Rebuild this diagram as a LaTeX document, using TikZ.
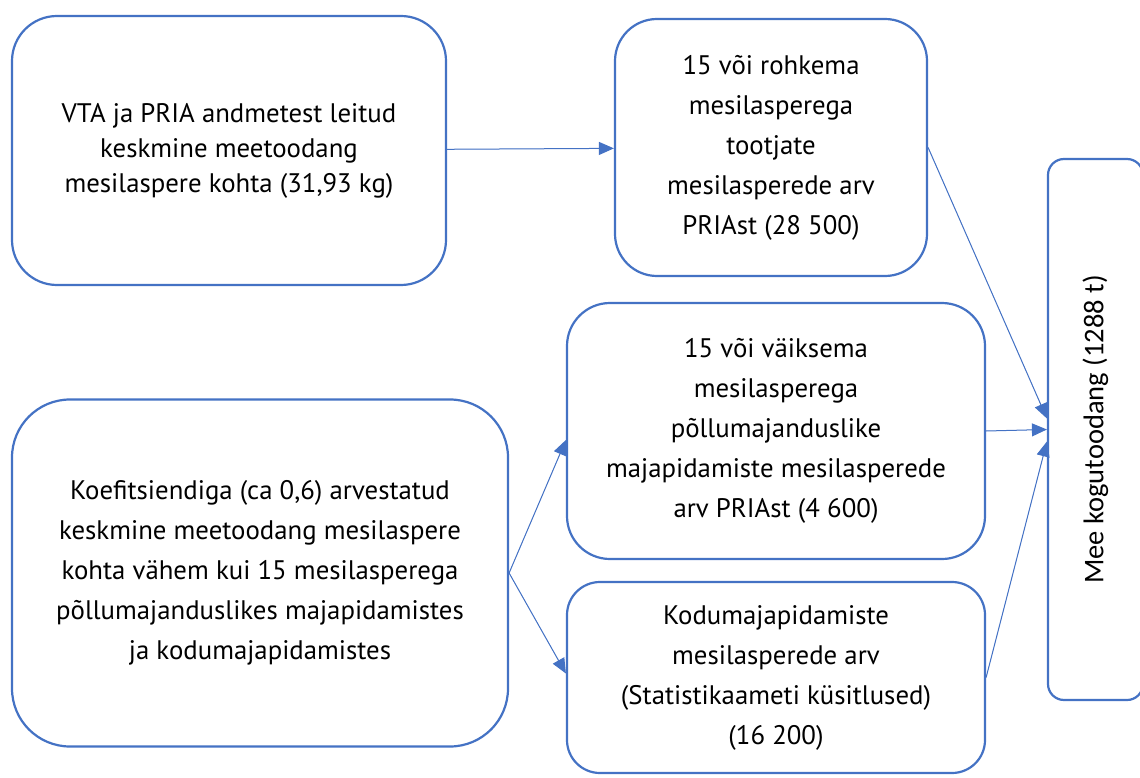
\documentclass[tikz,border=0pt]{standalone}
\usepackage{fontspec}
\setmainfont{PT Sans}
\newfontfamily\calib{Carlito}
\usetikzlibrary{shapes,arrows.meta,positioning}
\definecolor{wordblue}{HTML}{4472C4}
\tikzstyle{box}=[rectangle,draw=wordblue,line width=2.2pt,fill=white,align=center,inner sep=0pt,font=\fontsize{26.8}{40}\selectfont]
\tikzstyle{arr}=[-{Triangle[length=15pt,width=13pt]},line width=1pt,draw=wordblue,fill=wordblue]

\begin{document}
\begin{tikzpicture}[x=1pt,y=-1pt]
\useasboundingbox (0,0) rectangle (1140,778);
\node[box,minimum width=434pt,minimum height=269pt,rounded corners=45pt,font=\fontsize{26.8}{35}\selectfont] (vta) at (229,150.5) {VTA ja PRIA andmetest leitud\\keskmine meetoodang\\mesilaspere kohta (31,93 kg)};
\node[box,minimum width=312pt,minimum height=257pt,rounded corners=42pt] (suur) at (771,147.5) {15 või rohkema\\mesilasperega\\tootjate\\mesilasperede arv\\PRIAst (28 500)};
\node[box,minimum width=496pt,minimum height=347pt,rounded corners=58pt] (koef) at (260,573) {Koefitsiendiga (ca 0,6) arvestatud\\keskmine meetoodang mesilaspere\\kohta vähem kui 15 mesilasperega\\põllumajanduslikes majapidamistes\\ja kodumajapidamistes};
\node[box,minimum width=418pt,minimum height=256pt,rounded corners=43pt] (vaike) at (776,431) {15 või väiksema\\mesilasperega\\põllumajanduslike\\majapidamiste mesilasperede\\arv PRIAst (4 600)};
\node[box,minimum width=418pt,minimum height=191pt,rounded corners=33pt] (kodu) at (776,677.5) {Kodumajapidamiste\\mesilasperede arv\\(Statistikaameti küsitlused)\\(16 200)};
\node[box,minimum width=95pt,minimum height=541pt,rounded corners=16pt] (mee) at (1095.5,429.5) {};
\node[rotate=90,font=\calib\fontsize{28.5}{34}\selectfont] (meetekst) at (mee.center) {Mee kogutoodang (1288 t)};
\draw[arr] (vta) -- (suur);
\draw[arr] (koef.east) -- ([yshift=-9pt]vaike.west);
\draw[arr] (koef.east) -- ([yshift=4pt]kodu.west);
\draw[arr] (suur.east) -- ([yshift=11pt]mee.west);
\draw[arr] (vaike.east) -- (mee.west);
\draw[arr] (kodu.east) -- ([yshift=-12pt]mee.west);
\end{tikzpicture}
\end{document}
